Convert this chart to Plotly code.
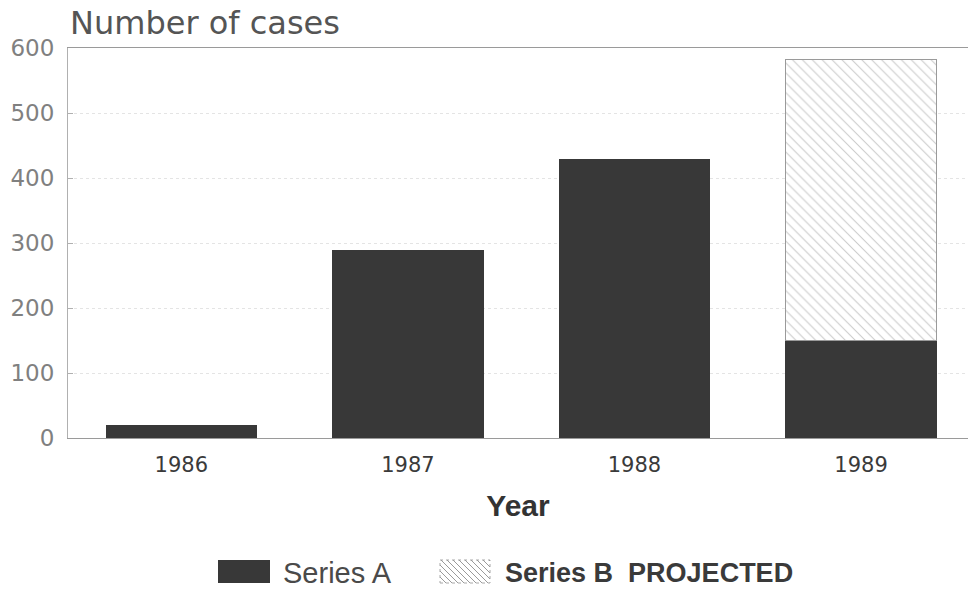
import plotly.graph_objects as go

years = ["1986", "1987", "1988", "1989"]
series_a = [20, 289, 429, 150]
series_b = [None, None, None, 432]
y_ticks = [0, 100, 200, 300, 400, 500, 600]
legend_a = "Series A"
legend_b = "Series B  PROJECTED"

FONT = "DejaVu Sans"
FONT2 = "Liberation Sans"
DARK = "#383838"

fig = go.Figure()
fig.add_trace(go.Bar(
    x=years, y=series_a, name=legend_a,
    marker=dict(color=DARK, line=dict(width=0)),
    width=0.668,
))
fig.add_trace(go.Bar(
    x=years, y=series_b, name=legend_b,
    marker=dict(color="white",
                line=dict(color="#9a9a9a", width=1),
                pattern=dict(shape="\\", fgcolor="#959595", bgcolor="white",
                             size=7, solidity=0.15)),
    width=0.668,
))

# ---- legend drawn in paper coordinates (large swatches as in the original)
PW, PL, PB, PH = 900.0, 68.0, 438.0, 390.0
def px(x):
    return (x - PL) / PW
def py(y):
    return (PB - y) / PH

shapes = [
    dict(type="rect", xref="paper", yref="paper",
         x0=px(218), x1=px(270), y0=py(583), y1=py(560),
         fillcolor=DARK, line=dict(width=0)),
    dict(type="rect", xref="paper", yref="paper",
         x0=px(440), x1=px(490), y0=py(583), y1=py(560),
         fillcolor="white", line=dict(color="#a8a8a8", width=1, dash="dot")),
]
# hatch strokes inside swatch B
x_left, x_right, y_top, y_bot = 440, 490, 560, 583
h = y_bot - y_top
step = 6
k = x_left - h
while k < x_right:
    xa, ya = k, y_top
    xb, yb = k + h, y_bot
    if xa < x_left:
        ya = y_top + (x_left - xa)
        xa = x_left
    if xb > x_right:
        yb = y_bot - (xb - x_right)
        xb = x_right
    if xa < xb:
        shapes.append(dict(type="line", xref="paper", yref="paper",
                           x0=px(xa), y0=py(ya), x1=px(xb), y1=py(yb),
                           line=dict(color="#9a9a9a", width=1)))
    k += step

annotations = [
    dict(text="Number of cases", xref="paper", yref="paper", x=0, y=py(23),
         xanchor="left", yanchor="middle", showarrow=False,
         font=dict(family=FONT, size=32, color="#555555")),
    dict(text=legend_a, xref="paper", yref="paper", x=px(281), y=py(573),
         xanchor="left", yanchor="middle", showarrow=False,
         font=dict(family=FONT2, size=29, color="#4a4a4a")),
    dict(text="<b>Series B</b>&nbsp;&nbsp;<b>PROJECTED</b>", xref="paper", yref="paper",
         x=px(503), y=py(573),
         xanchor="left", yanchor="middle", showarrow=False,
         font=dict(family=FONT2, size=27, color="#3a3a3a")),
]

fig.update_layout(
    width=968, height=594,
    barmode="stack",
    margin=dict(l=68, r=0, t=48, b=156),
    paper_bgcolor="white", plot_bgcolor="white",
    font=dict(family=FONT, color="#555555"),
    showlegend=False,
    shapes=shapes,
    annotations=annotations,
)

fig.update_xaxes(
    type="category", range=[-0.5, 3.472], automargin=False,
    showline=True, linecolor="#9a9a9a", linewidth=1, mirror=True,
    showgrid=False, ticks="", ticklabelstandoff=8,
    tickfont=dict(family=FONT, size=21, color="#3a3a3a"),
    title=dict(text="<b>Year</b>", font=dict(family=FONT2, size=30, color="#333333"), standoff=18),
)
fig.update_yaxes(
    range=[0, 600], tickvals=y_ticks, automargin=False,
    showline=True, linecolor="#b0b0b0", linewidth=1,
    showgrid=True, gridcolor="#e4e4e4", griddash="dot", gridwidth=1,
    zeroline=False,
    ticks="inside", ticklen=5, tickcolor="#b0b0b0", ticklabelstandoff=8,
    tickfont=dict(family=FONT, size=23, color="#808080"),
)

fig.write_html("out.html",
               config={"displayModeBar": False},
               post_script="document.body.style.margin='0';document.body.style.overflow='hidden';")
